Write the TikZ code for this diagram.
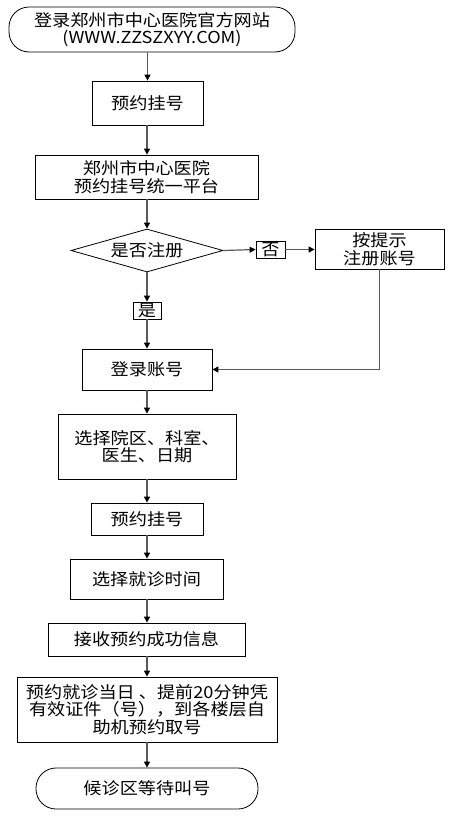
\documentclass[tikz,border=0pt]{standalone}
\usepackage{fontspec}
\setmainfont{Noto Sans CJK SC}[FakeStretch=1.1]
\usetikzlibrary{shapes.geometric,arrows.meta}
\tikzset{
  box/.style={draw=black,line width=0.8pt,rectangle,inner sep=0pt,align=center,font=\fontsize{16.5}{17.5}\selectfont},
  stadium/.style={box,rounded corners=20pt},
  decision/.style={draw=black,line width=0.8pt,diamond,aspect=3.5,inner sep=0pt,align=center,font=\fontsize{16.5}{17.5}\selectfont},
  tag/.style={draw=black,line width=0.8pt,rectangle,inner sep=0pt,font=\fontsize{16.5}{17.5}\selectfont},
  conn/.style={draw=black!65,line width=1.2pt,-{Triangle[length=6pt,width=6pt,color=black]}},
  plain/.style={draw=black!65,line width=1.2pt}
}
\begin{document}
\begin{tikzpicture}[x=1pt,y=-1pt]
\useasboundingbox (0,0) rectangle (455,817);
\node[stadium,minimum width=286pt,minimum height=45pt] (start) at (152,29.5) {登录郑州市中心医院官方网站\\(WWW.ZZSZXYY.COM)};
\node[box,minimum width=111pt,minimum height=44pt] (b1) at (147.5,103) {预约挂号};
\node[box,minimum width=223pt,minimum height=44pt] (b2) at (146.5,177) {郑州市中心医院\\预约挂号统一平台};
\node[decision,minimum width=152pt,minimum height=43pt] (d) at (147,250.5) {是否注册};
\node[tag,minimum width=29pt,minimum height=17pt] (no) at (270.5,249.5) {否};
\node[box,minimum width=129pt,minimum height=40pt] (reg) at (379.5,249) {按提示\\注册账号};
\node[tag,minimum width=28pt,minimum height=17pt] (yes) at (147,310.5) {是};
\node[box,minimum width=130pt,minimum height=41pt] (login) at (147,369.5) {登录账号};
\node[box,minimum width=178pt,minimum height=65pt] (sel) at (147,446.5) {选择院区、科室、\\医生、日期};
\node[box,minimum width=112pt,minimum height=32pt] (b3) at (147,519) {预约挂号};
\node[box,minimum width=153pt,minimum height=40pt] (time) at (146.5,579) {选择就诊时间};
\node[box,minimum width=197pt,minimum height=33pt] (recv) at (146.5,639.5) {接收预约成功信息};
\node[box,minimum width=260pt,minimum height=65pt] (big) at (147,709.5) {预约就诊当日 、提前20分钟凭\\有效证件（号），到各楼层自\\助机预约取号};
\node[stadium,minimum width=222pt,minimum height=41pt] (end) at (147,788.5) {候诊区等待叫号};

\draw[conn] (b1.north |- start.south) -- (b1.north);
\draw[conn] (b1.south -| d.north) -- (b2.north -| d.north);
\draw[conn] (b2.south -| d.north) -- (d.north);
\draw[conn] (d.east) -- (no.west);
\draw[conn] (no.east) -- (reg.west |- no.east);
\draw[conn] (d.south) -- (yes.north);
\draw[conn] (yes.south) -- (login.north);
\draw[conn] (reg.south) |- (login.east);
\draw[conn] (login.south) -- (sel.north);
\draw[conn] (sel.south) -- (b3.north);
\draw[conn] (b3.south) -- (time.north -| b3.south);
\draw[conn] (time.south -| b3.south) -- (recv.north -| b3.south);
\draw[conn] (recv.south -| b3.south) -- (big.north);
\draw[conn] (big.south) -- (end.north);
\end{tikzpicture}
\end{document}
